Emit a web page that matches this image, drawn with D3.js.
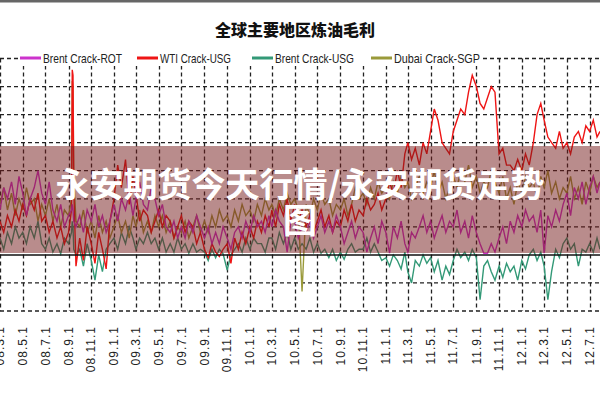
<!DOCTYPE html>
<html>
<head>
<meta charset="utf-8">
<script src="https://cdn.jsdelivr.net/npm/d3@7"></script>
<style>
  body { margin: 0; background: #fff; }
  svg { display: block; }
</style>
</head>
<body>
<svg id="chart" width="600" height="400"></svg>
<script>
// 三个一组 = 每月1日/11日/21日 (08年9月多取几天画那根尖刺)
var dates = []
for (var m = 0; m < 53; m++) {
  var base = new Date(2008, 2 + m, 1)
  var days = [1, 11, 21]
  if (m == 6) days = [1, 9, 11, 13, 15, 21]
  if (m == 52) days = [1, 11, 21, 29]
  days.forEach(function (d) { dates.push(new Date(base.getFullYear(), base.getMonth(), d)) })
}

var seriesNames = ['Brent Crack-ROT', 'WTI Crack-USG', 'Brent Crack-USG', 'Dubai Crack-SGP']
var seriesColors = ['#cc33cc', '#ee1515', '#339977', '#9a9a3a']

var brentRot = [
  8,12,10, 13,9,14, 11,7,10, 12,15,11, 9,13,8, 6,9,5, 7,8,9,8,6,5, 7,4,8, 6,9,5, 7,4,6,
  9,6,10, 8,11,7, 10,13,9, 8,12,10, 7,9,5, 4,6,3, 5,3,6, 4,7,5, 3,5,2, 4,2,5, 3,1,4, 5,3,6,
  4,7,5, 6,4,7, 5,8,6, 5,0.5,6, 6,3,5, 4,6,3, 5,7,4, 6,4,7, 5,2,4, 6,3,5, 4,0.5,3, 5,2,6,
  4,0.3,5, 3,6,2, 0.5,4,3, 5,7,4, 6,3,5, 7,4,6, 5,8,4, 6,3,7, 4,2,0.3, 0.3,2,0.5, 3,5,2, 6,4,7,
  5,8,6, 7,4,8, 0.3,7,5, 8,6,9, 11,7,12, 10,13,9, 12,14,11,13
]
var wtiUsg = [
  6,4,7, 5,8,6, 9,7,10, 8,11,6, 7,4,6, 3,5,2, 4,8,33,32,12,-2, 3,-1,5, 2,-1.5,4, 1,-2.5,6,
  10,16,12, 17,9,14, 11,6,8, 7,4,6, 8,5,7, 6,3,5, 7,4,6, 5,2,4, 1,-0.5,2, 0.5,-0.3,1, 2,-1.5,3, 1,4,2,
  5,3,6, 4,7,5, 8,5,9, 7,10,6, 9,6,8, 5,7,4, 6,8,5, 7,4,6, 5,8,6, 9,6,8, 7,10,8, 9,11,8,
  10,13,11, 15,12,18, 20,17,19, 16,20,18, 22,26,24, 20,19,18, 22,24,26, 25,29,32, 30,27,26, 28,30,29, 18,19,16, 16,15,17,
  15,18,16, 20,25,27, 24,21,20, 19,22,19, 20,18,21, 22,20,23, 22,24,21,22
]
var brentUsg = [
  3,1,4, 2,5,3, 4,2,5, 3,6,2, 1,3,0.5, 2,0.2,3, 2,4,6,5,1,0, 1,-2,2, -1,-4.5,0, -3,1,2,
  3,1,4, 2,5,3, 1,3,2, 4,2,3, 1,3,0.5, 2,0.5,3, 1,2,0.3, 2,0.5,1, 0.5,-1,1, -0.5,1,0.2, -2.7,0,1, 2,0.5,3,
  1,3,2, 2,0.5,3, 3,1,4, 2,4,1, 3,1,2, 1,3,0.5, 2,0.3,1, -0.5,1,-1, 0.5,-0.8,1, 2,0.5,1, 1,3,0.5, 2,0.5,-1,
  -0.5,-2,0, -1,-2.5,0.5, -3,-5,-1, -2,0,-1.5, -0.5,-3,-1, -4.5,-2,-3.5, -1,1,-0.5, 0.5,-1,1, -0.5,-8,-2, -1,-3,-4.5, -2,-4,-1.5, -3,-2,-4.5,
  -1,-2.5,0, 1,-1,0.5, -2,-8,-3, 1,-0.5,2, 3,1,2, -2,1,0.5, 2,0.5,3,1
]
var dubaiSgp = [
  9,12,8, 11,7,10, 8,12,9, 10,6,9, 7,10,6, 9,5,8, 7,10,31,30,14,6, 5,8,4, 6,3,7, 4,6,3,
  5,7,4, 6,3,7, 5,8,4, 6,4,7, 5,7,4, 6,3,5, 4,6,3, 5,7,4, 6,4,7, 5,8,6, 7,5,8, 6,9,7,
  8,6,9, 7,10,8, 9,7,10, 8,11,9, 10,8,-6.5, 9,7,10, 8,11,9, 10,7,9, 8,10,7, 9,12,10, 11,9,12, 10,13,11,
  12,10,13, 11,14,12, 13,10,12, 14,11,13, 12,15,11, 13,10,12, 14,12,15, 13,16,12, 14,11,13, 12,15,13, 11,14,10, 12,9,13,
  11,14,12, 13,10,14, 12,15,11, 13,10,12, 11,14,10, 12,9,13, 11,14,12,13
]
var yTicks = [-10, -5, 0, 5, 10, 15, 20, 25, 30, 35]

var svg = d3.select('#chart')
var W = 600

var x = d3.scaleTime().domain([new Date(2008, 2, 1), new Date(2012, 6, 29)]).range([0, W])
var y = d3.scaleLinear().domain([-10, 35]).range([311, 58.5])

// top border
svg.append('rect').attr('x', 0).attr('y', 0).attr('width', W).attr('height', 2.5).attr('fill', '#666')

// title
svg.append('text').attr('x', 295).attr('y', 36).attr('text-anchor', 'middle')
  .style('font-family', '"Noto Sans CJK SC"').style('font-weight', 900).style('font-size', '16px')
  .attr('fill', '#111').text('全球主要地区炼油毛利')

// grid
var monthTicks = x.ticks(d3.timeMonth.every(2))
svg.append('g').selectAll('line').data(monthTicks).join('line')
  .attr('x1', function (d) { return Math.round(x(d)) + 0.5 }).attr('x2', function (d) { return Math.round(x(d)) + 0.5 })
  .attr('y1', y(35)).attr('y2', y(-10))
  .attr('stroke', '#222').attr('stroke-width', 1.3).attr('stroke-dasharray', '4,3')
svg.append('g').selectAll('line').data(yTicks.filter(function (t) { return t != 0 })).join('line')
  .attr('x1', 0).attr('x2', W).attr('y1', function (d) { return y(d) }).attr('y2', function (d) { return y(d) })
  .attr('stroke', '#222').attr('stroke-width', 1.3).attr('stroke-dasharray', '4,3')

// lines
var allSeries = [brentRot, wtiUsg, brentUsg, dubaiSgp]
var drawOrder = [2, 3, 1, 0]
var line = d3.line().x(function (d, i) { return x(dates[i]) }).y(function (d) { return y(d) })
drawOrder.forEach(function (s) {
  svg.append('path').datum(allSeries[s]).attr('d', line)
    .attr('fill', 'none').attr('stroke', seriesColors[s]).attr('stroke-width', 1.4)
})

// zero line
svg.append('line').attr('x1', 0).attr('x2', W).attr('y1', y(0)).attr('y2', y(0))
  .attr('stroke', '#111').attr('stroke-width', 1.5)

// legend
var legX = [20, 137, 252, 371]
var legW = [79, 71, 79, 86]
svg.append('rect').attr('x', 19).attr('y', 48).attr('width', 464).attr('height', 18).attr('fill', '#fff')
seriesNames.forEach(function (n, i) {
  svg.append('line').attr('x1', legX[i]).attr('x2', legX[i] + 21).attr('y1', 58).attr('y2', 58)
    .attr('stroke', seriesColors[i]).attr('stroke-width', 3)
  svg.append('text').attr('x', legX[i] + 23).attr('y', 62.5)
    .attr('textLength', legW[i]).attr('lengthAdjust', 'spacingAndGlyphs')
    .style('font-family', '"Liberation Sans", Arial').style('font-size', '13px').attr('fill', '#222')
    .text(n)
})

// x labels
var fmt = d3.timeFormat('%y.%-m.%-d')
svg.append('g').selectAll('text').data(monthTicks).join('text')
  .attr('transform', function (d) { return 'translate(' + x(d) + ',326) rotate(-90)' })
  .attr('text-anchor', 'end').attr('dy', '0.35em')
  .style('font-family', '"Liberation Sans", Arial').style('font-size', '12px').style('letter-spacing', '1px')
  .attr('fill', '#222').text(function (d) { return fmt(d) })

// banner overlay
svg.append('rect').attr('x', 0).attr('y', 146).attr('width', W).attr('height', 107)
  .attr('fill', 'rgba(115,25,25,0.5)')
var bannerLines = ['永安期货今天行情/永安期货走势', '图']
svg.append('g').selectAll('text').data(bannerLines).join('text')
  .attr('x', 300).attr('y', function (d, i) { return 197 + i * 36 })
  .attr('text-anchor', 'middle')
  .style('font-family', '"Noto Sans CJK SC"').style('font-weight', 700).style('font-size', '34px')
  .attr('fill', '#fff').text(function (d) { return d })
</script>
</body>
</html>
